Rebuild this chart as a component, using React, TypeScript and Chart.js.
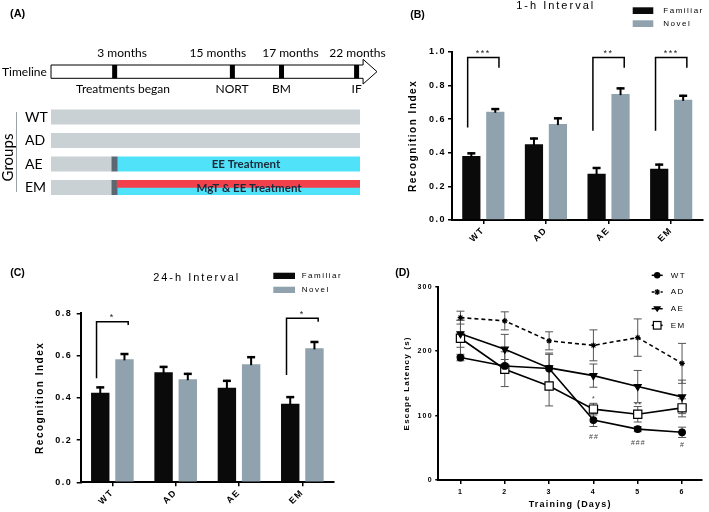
import React, { useEffect, useRef } from 'react';
import { Chart, registerables } from 'chart.js';
Chart.register(...registerables);

const FONT = '"Liberation Sans", Arial, sans-serif';
const FONT_A = 'Lato, "Liberation Sans", sans-serif';

// ---------------- Panel A (schematic timeline, 0..100 schematic units) ----------------
const groupLabels = ['WT', 'AD', 'AE', 'EM'];
const controlSpan = [[0, 100], [0, 100], [0, 19.7], [0, 19.7]];
const startSpan = [null, null, [19.7, 21.4], [19.7, 21.4]];
const eeSpan = [null, null, [21.4, 100], [21.4, 100]];
const mgtSpan = [null, null, null, [21.4, 100]];
const treatmentText = ['', '', 'EE Treatment', 'MgT & EE Treatment'];
const treatmentTextAt = [0, 0, 63.1, 64.1];
const timelineTickAt = [20.6, 58.7, 74.6, 98.9];
const timelineAges = ['3 months', '15 months', '17 months', '22 months'];
const timelineAgesAt = [23.0, 54.0, 77.5, 99.2];
const timelineEvents = ['Treatments began', 'NORT', 'BM', 'IF'];
const timelineEventsAt = [23.3, 58.6, 74.6, 98.9];
const timelineBodyEnd = 101;
const timelineArrowTip = 105.5;

// ---------------- Panels B / C (NORT) ----------------
const nortGroups = ['WT', 'AD', 'AE', 'EM'];
const seriesNames = ['Familiar', 'Novel'];

const familiar1h = [0.38, 0.45, 0.275, 0.305];
const familiar1hErr = [0.022, 0.04, 0.04, 0.03];
const novel1h = [0.643, 0.57, 0.748, 0.714];
const novel1hErr = [0.022, 0.04, 0.04, 0.03];
const sig1hGroup = [0, 2, 3];
const sig1hStars = ['***', '**', '***'];
const sig1hTop = [0.965, 0.965, 0.965];
const sig1hLeftEnd = [0.55, 0.53, 0.53];
const sig1hRightEnd = [0.905, 0.905, 0.905];
const yTicks1h = [0, 0.2, 0.4, 0.6, 0.8, 1.0];

const familiar24h = [0.424, 0.521, 0.448, 0.372];
const familiar24hErr = [0.03, 0.03, 0.037, 0.036];
const novel24h = [0.582, 0.488, 0.559, 0.634];
const novel24hErr = [0.03, 0.03, 0.038, 0.035];
const sig24hGroup = [0, 3];
const sig24hStars = ['*', '*'];
const sig24hTop = [0.76, 0.776];
const sig24hLeftEnd = [0.492, 0.508];
const sig24hRightEnd = [0.745, 0.76];
const yTicks24h = [0, 0.2, 0.4, 0.6, 0.8];

// ---------------- Panel D (Barnes maze) ----------------
const days = [1, 2, 3, 4, 5, 6];
const latencyTicks = [0, 100, 200, 300];
const wtLatency = [190, 177, 173, 93, 79, 74];
const wtErr = [5, 10, 22, 10, 4, 8];
const adLatency = [252, 247, 216, 209, 221, 181];
const adErr = [10, 14, 14, 24, 29, 31];
const aeLatency = [227, 203, 174, 162, 145, 129];
const aeErr = [21, 23, 23, 18, 25, 26];
const emLatency = [220, 172, 146, 110, 102, 112];
const emErr = [28, 27, 31, 9, 12, 14];
const notesText = ['*', '**', '##', '###', '#'];
const notesDay = [4, 5, 4, 5, 6];
const notesValue = [126, 117, 67, 57, 54];

// ---------------- Panel A chart ----------------
function makePanelA(canvas: HTMLCanvasElement) {
  const plugin = {
    id: 'panelA',
    afterDatasetUpdate(chart: any, args: any) {
      const ds = chart.data.datasets[args.index];
      if (!ds.halfTop) return;
      args.meta.data.forEach((el: any) => {
        if (el && isFinite(el.y) && isFinite(el.height)) {
          el.y -= el.height / 4;
          el.height /= 2;
        }
      });
    },
    afterDatasetsDraw(chart: any) {
      const { ctx } = chart;
      const xs = chart.scales.x, ys = chart.scales.y;
      ctx.save();
      ctx.fillStyle = '#1b2a3a';
      ctx.font = `bold 11.5px ${FONT_A}`;
      ctx.textAlign = 'center';
      ctx.textBaseline = 'middle';
      treatmentText.forEach((t, i) => {
        if (!t) return;
        ctx.fillText(t, xs.getPixelForValue(treatmentTextAt[i]), ys.getPixelForValue(i) + (i === 3 ? 1 : 0));
      });
      ctx.restore();
    },
    afterDraw(chart: any) {
      const { ctx } = chart;
      const xs = chart.scales.x;
      const px = (v: number) => xs.getPixelForValue(v);
      ctx.save();
      ctx.fillStyle = '#000';
      ctx.font = `bold 11px ${FONT}`;
      ctx.textAlign = 'left';
      ctx.textBaseline = 'middle';
      ctx.fillText('(A)', 10, 14);
      // timeline arrow
      const t0 = 65, t1 = 78.3;
      ctx.beginPath();
      ctx.moveTo(px(0), t0);
      ctx.lineTo(px(timelineBodyEnd), t0);
      ctx.lineTo(px(timelineBodyEnd), 59.3);
      ctx.lineTo(px(timelineArrowTip), (t0 + t1) / 2);
      ctx.lineTo(px(timelineBodyEnd), 84);
      ctx.lineTo(px(timelineBodyEnd), t1);
      ctx.lineTo(px(0), t1);
      ctx.closePath();
      ctx.fillStyle = '#fff';
      ctx.fill();
      ctx.strokeStyle = '#000';
      ctx.lineWidth = 1;
      ctx.stroke();
      ctx.fillStyle = '#000';
      timelineTickAt.forEach((v) => ctx.fillRect(px(v) - 2.5, t0, 5, t1 - t0));
      ctx.font = `12px ${FONT_A}`;
      ctx.textAlign = 'center';
      timelineAges.forEach((t, i) => ctx.fillText(t, px(timelineAgesAt[i]), 53.5));
      timelineEvents.forEach((t, i) => ctx.fillText(t, px(timelineEventsAt[i]), 89.5));
      ctx.textAlign = 'left';
      ctx.fillText('Timeline', 2, 72);
      // Groups label + line
      ctx.save();
      ctx.translate(8, 157.5);
      ctx.rotate(-Math.PI / 2);
      ctx.textAlign = 'center';
      ctx.font = `15px ${FONT_A}`;
      ctx.fillText('Groups', 0, 0);
      ctx.restore();
      ctx.strokeStyle = '#9aa0a4';
      ctx.lineWidth = 1;
      ctx.beginPath();
      ctx.moveTo(16.5, 112);
      ctx.lineTo(16.5, 192);
      ctx.stroke();
      ctx.restore();
    },
  };
  return new Chart(canvas, {
    type: 'bar',
    data: {
      labels: groupLabels,
      datasets: [
        { label: 'MgT', data: mgtSpan as any, backgroundColor: '#f2404c', order: 0, halfTop: true } as any,
        { label: 'Start', data: startSpan as any, backgroundColor: '#5c6871', order: 1 },
        { label: 'EE', data: eeSpan as any, backgroundColor: '#4fe2f8', order: 2 },
        { label: 'Control', data: controlSpan as any, backgroundColor: '#c9d1d4', order: 3 },
      ],
    },
    options: {
      indexAxis: 'y',
      responsive: false,
      animation: false,
      datasets: { bar: { grouped: false, barThickness: 14.5 } } as any,
      layout: { padding: { left: 25, right: 35, top: 105.25, bottom: 50.75 } },
      scales: {
        x: { type: 'linear', min: 0, max: 100, display: false },
        y: {
          type: 'category',
          grid: { display: false },
          border: { display: false },
          ticks: { crossAlign: 'far', font: { family: FONT_A, size: 14 }, color: '#000', padding: 0 },
          afterFit: (s: any) => { s.width = 26; },
        },
      },
      plugins: { legend: { display: false }, tooltip: { enabled: false } },
    } as any,
    plugins: [plugin],
  });
}

// ---------------- Panels B / C chart ----------------
function makeNortPanel(canvas: HTMLCanvasElement, cfg: any) {
  const L = cfg.layout;
  const plugin = {
    id: 'nortDecor',
    beforeDraw(chart: any) { chart.ctx.letterSpacing = '1.5px'; },
    afterDatasetsDraw(chart: any) {
      const { ctx } = chart;
      const xs = chart.scales.x, ys = chart.scales.y;
      ctx.save();
      ctx.strokeStyle = '#000';
      ctx.fillStyle = '#000';
      [cfg.famErr, cfg.novErr].forEach((errs: number[], di: number) => {
        const meta = chart.getDatasetMeta(di);
        const vals = chart.data.datasets[di].data;
        meta.data.forEach((el: any, j: number) => {
          const yTop = ys.getPixelForValue(vals[j]);
          const yE = ys.getPixelForValue(vals[j] + errs[j]);
          ctx.lineWidth = 2;
          ctx.beginPath(); ctx.moveTo(el.x, yTop + 1); ctx.lineTo(el.x, yE); ctx.stroke();
          ctx.lineWidth = 2.5;
          ctx.beginPath(); ctx.moveTo(el.x - 4, yE + 1); ctx.lineTo(el.x + 4, yE + 1); ctx.stroke();
        });
      });
      const catW = xs.width / nortGroups.length;
      cfg.sigGroup.forEach((g: number, k: number) => {
        const cx = xs.getPixelForValue(g);
        const l = cx - catW * 0.25, r = cx + catW * 0.25;
        const yt = ys.getPixelForValue(cfg.sigTop[k]);
        ctx.lineWidth = 1.5;
        ctx.beginPath();
        ctx.moveTo(l, ys.getPixelForValue(cfg.sigLeft[k]));
        ctx.lineTo(l, yt);
        ctx.lineTo(r, yt);
        ctx.lineTo(r, ys.getPixelForValue(cfg.sigRight[k]));
        ctx.stroke();
        ctx.font = `9px ${FONT}`;
        ctx.fillStyle = '#222';
        ctx.textAlign = 'center';
        ctx.textBaseline = 'middle';
        ctx.fillText(cfg.sigStars[k], cx, yt - 4);
      });
      ctx.restore();
    },
    afterDraw(chart: any) {
      const { ctx } = chart;
      ctx.save();
      ctx.fillStyle = '#000';
      ctx.letterSpacing = '0px';
      ctx.font = `bold 10.5px ${FONT}`;
      ctx.textAlign = 'center';
      ctx.textBaseline = 'middle';
      ctx.fillText(cfg.panel, L.panelX, L.panelY);
      ctx.letterSpacing = '2px';
      ctx.font = `11px ${FONT}`;
      ctx.textBaseline = 'alphabetic';
      ctx.fillText(cfg.title, L.titleX, L.titleY);
      // legend
      const colors = ['#0a0a0a', '#8fa2ad'];
      ctx.letterSpacing = '1.5px';
      ctx.font = `8px ${FONT}`;
      ctx.textAlign = 'left';
      ctx.textBaseline = 'middle';
      seriesNames.forEach((n, i) => {
        const y = L.legendY[i];
        ctx.fillStyle = colors[i];
        ctx.fillRect(L.legendX, y, L.legendW, L.legendH);
        ctx.fillStyle = '#000';
        ctx.fillText(n, L.legendTextX, y + L.legendH / 2);
      });
      ctx.restore();
      ctx.letterSpacing = '0px';
    },
  };
  return new Chart(canvas, {
    type: 'bar',
    data: {
      labels: nortGroups,
      datasets: [
        { label: seriesNames[0], data: cfg.fam, backgroundColor: '#0a0a0a', categoryPercentage: 0.765, barPercentage: 0.76 },
        { label: seriesNames[1], data: cfg.nov, backgroundColor: '#8fa2ad', categoryPercentage: 0.765, barPercentage: 0.76 },
      ],
    },
    options: {
      responsive: false,
      animation: false,
      layout: { padding: { left: 0, top: L.padTop, right: L.padRight, bottom: 0 } },
      scales: {
        x: {
          grid: { display: true, drawOnChartArea: false, offset: false, color: '#000', lineWidth: 1.5, tickLength: 4 },
          border: { display: true, color: '#000', width: 2 },
          ticks: { autoSkip: false, minRotation: 45, maxRotation: 45, font: { family: FONT, size: 9, weight: 'bold' }, color: '#000', padding: 1 },
          afterFit: (s: any) => { s.height = L.xHeight; },
        },
        y: {
          min: 0,
          max: cfg.yTicks[cfg.yTicks.length - 1],
          afterBuildTicks: (s: any) => { s.ticks = cfg.yTicks.map((v: number) => ({ value: v })); },
          grid: { drawOnChartArea: false, color: '#000', lineWidth: 1.5, tickLength: 4 },
          border: { display: true, color: '#000', width: 2 },
          ticks: { font: { family: FONT, size: 9, weight: 'bold' }, color: '#000', padding: L.yTickPad, callback: (v: any) => Number(v).toFixed(1) },
          title: { display: true, text: 'Recognition Index', font: { family: FONT, size: 10, weight: 'bold' }, color: '#000', padding: { top: L.yTitlePad, bottom: 0 } },
          afterFit: (s: any) => { s.width = L.yWidth; },
        },
      },
      plugins: { legend: { display: false }, tooltip: { enabled: false } },
    } as any,
    plugins: [plugin],
  });
}

// ---------------- Panel D chart ----------------
function drawMarker(ctx: CanvasRenderingContext2D, style: string, x: number, y: number) {
  ctx.save();
  ctx.fillStyle = '#000';
  ctx.strokeStyle = '#000';
  ctx.lineWidth = 1.2;
  if (style === 'circle') {
    ctx.beginPath(); ctx.arc(x, y, 3.2, 0, Math.PI * 2); ctx.fill();
  } else if (style === 'star') {
    const r = 3;
    ctx.beginPath();
    for (let k = 0; k < 4; k++) {
      const a = (k * Math.PI) / 4;
      ctx.moveTo(x - r * Math.cos(a), y - r * Math.sin(a));
      ctx.lineTo(x + r * Math.cos(a), y + r * Math.sin(a));
    }
    ctx.stroke();
  } else if (style === 'triangle') {
    ctx.beginPath(); ctx.moveTo(x - 4, y - 2.5); ctx.lineTo(x + 4, y - 2.5); ctx.lineTo(x, y + 3.5); ctx.closePath(); ctx.fill();
  } else if (style === 'rect') {
    ctx.fillStyle = '#fff';
    ctx.fillRect(x - 3.8, y - 3.8, 7.6, 7.6);
    ctx.strokeRect(x - 3.8, y - 3.8, 7.6, 7.6);
  }
  ctx.restore();
}

function makePanelD(canvas: HTMLCanvasElement) {
  const styles = ['circle', 'star', 'triangle', 'rect'];
  const plugin = {
    id: 'panelD',
    beforeDraw(chart: any) { chart.ctx.letterSpacing = '1.2px'; },
    beforeDatasetsDraw(chart: any) {
      const { ctx } = chart;
      const xs = chart.scales.x, ys = chart.scales.y;
      ctx.save();
      ctx.strokeStyle = '#555';
      ctx.lineWidth = 1;
      chart.data.datasets.forEach((ds: any) => {
        ds.data.forEach((p: any, j: number) => {
          const e = ds.errors[j];
          const x = xs.getPixelForValue(p.x);
          const y1 = ys.getPixelForValue(p.y - e), y2 = ys.getPixelForValue(p.y + e);
          ctx.beginPath();
          ctx.moveTo(x, y1); ctx.lineTo(x, y2);
          ctx.moveTo(x - 4, y1); ctx.lineTo(x + 4, y1);
          ctx.moveTo(x - 4, y2); ctx.lineTo(x + 4, y2);
          ctx.stroke();
        });
      });
      ctx.restore();
    },
    afterDraw(chart: any) {
      const { ctx } = chart;
      const xs = chart.scales.x, ys = chart.scales.y;
      ctx.save();
      ctx.letterSpacing = '0px';
      ctx.fillStyle = '#000';
      ctx.font = `bold 10.5px ${FONT}`;
      ctx.textAlign = 'center';
      ctx.textBaseline = 'middle';
      ctx.fillText('(D)', 42.5, 17);
      // annotations
      ctx.fillStyle = '#444';
      ctx.font = `7px ${FONT}`;
      ctx.letterSpacing = '1px';
      notesText.forEach((t, i) => {
        ctx.fillText(t, xs.getPixelForValue(notesDay[i]) + 0.5, ys.getPixelForValue(notesValue[i]));
      });
      // legend
      ctx.letterSpacing = '1.5px';
      ctx.font = `8px ${FONT}`;
      ctx.textAlign = 'left';
      const rows = [19.3, 36, 52.7, 69.3];
      chart.data.datasets.forEach((ds: any, i: number) => {
        const y = rows[i];
        ctx.strokeStyle = '#000';
        ctx.lineWidth = 1.5;
        ctx.setLineDash(i === 1 ? [2.5, 2] : []);
        ctx.beginPath(); ctx.moveTo(291.7, y); ctx.lineTo(302.7, y); ctx.stroke();
        ctx.setLineDash([]);
        drawMarker(ctx, styles[i], 297.2, y);
        ctx.fillStyle = '#000';
        ctx.fillText(ds.label, 310.7, y);
      });
      ctx.restore();
      ctx.letterSpacing = '0px';
    },
  };
  const base = { borderColor: '#000', borderWidth: 1.6, pointBorderColor: '#000', pointBackgroundColor: '#000', pointBorderWidth: 1.2 };
  return new Chart(canvas, {
    type: 'line',
    data: {
      datasets: [
        { ...base, label: 'WT', data: days.map((d, i) => ({ x: d, y: wtLatency[i] })), errors: wtErr, pointStyle: 'circle', pointRadius: 3.3 },
        { ...base, label: 'AD', data: days.map((d, i) => ({ x: d, y: adLatency[i] })), errors: adErr, borderDash: [4, 3], pointStyle: 'star', pointRadius: 2.8 },
        { ...base, label: 'AE', data: days.map((d, i) => ({ x: d, y: aeLatency[i] })), errors: aeErr, pointStyle: 'triangle', pointRotation: 180, pointRadius: 4 },
        { ...base, label: 'EM', data: days.map((d, i) => ({ x: d, y: emLatency[i] })), errors: emErr, pointStyle: 'rect', pointRadius: 5.8, pointBackgroundColor: '#fff' },
      ] as any,
    },
    options: {
      responsive: false,
      animation: false,
      layout: { padding: { left: 0, top: 30.7, right: 6, bottom: 0 } },
      scales: {
        x: {
          type: 'linear', min: 0.5, max: 6.45,
          afterBuildTicks: (s: any) => { s.ticks = days.map((v) => ({ value: v })); },
          grid: { drawOnChartArea: false, color: '#000', lineWidth: 1.5, tickLength: 4 },
          border: { display: true, color: '#000', width: 2 },
          ticks: { font: { family: FONT, size: 7, weight: 'bold' }, color: '#000', padding: 3.5 },
          title: { display: true, text: 'Training (Days)', font: { family: FONT, size: 9, weight: 'bold' }, color: '#000', padding: { top: 0, bottom: 2.3 } },
          afterFit: (s: any) => { s.height = 32; },
        },
        y: {
          min: 0, max: 300,
          afterBuildTicks: (s: any) => { s.ticks = latencyTicks.map((v) => ({ value: v })); },
          grid: { drawOnChartArea: false, color: '#000', lineWidth: 1.5, tickLength: 3 },
          border: { display: true, color: '#000', width: 2 },
          ticks: { font: { family: FONT, size: 7, weight: 'bold' }, color: '#000', padding: 2.5 },
          title: { display: true, text: 'Escape Latency (s)', font: { family: FONT, size: 8, weight: 'bold' }, color: '#000', padding: { top: 41.9, bottom: 0 } },
          afterFit: (s: any) => { s.width = 78.3; },
        },
      },
      plugins: { legend: { display: false }, tooltip: { enabled: false } },
    } as any,
    plugins: [plugin],
  });
}

export default function App() {
  const aRef = useRef<HTMLCanvasElement>(null);
  const bRef = useRef<HTMLCanvasElement>(null);
  const cRef = useRef<HTMLCanvasElement>(null);
  const dRef = useRef<HTMLCanvasElement>(null);

  useEffect(() => {
    const charts = [
      makePanelA(aRef.current!),
      makeNortPanel(bRef.current!, {
        panel: '(B)', title: '1-h Interval',
        fam: familiar1h, famErr: familiar1hErr, nov: novel1h, novErr: novel1hErr,
        sigGroup: sig1hGroup, sigStars: sig1hStars, sigTop: sig1hTop, sigLeft: sig1hLeftEnd, sigRight: sig1hRightEnd,
        yTicks: yTicks1h,
        layout: {
          padTop: 51.7, padRight: 6.5, yWidth: 72, xHeight: 36, yTickPad: 2, yTitlePad: 27,
          panelX: 37.5, panelY: 15, titleX: 175.7, titleY: 9,
          legendX: 252.7, legendW: 20.6, legendH: 6.7, legendY: [7.3, 20.3], legendTextX: 283.3,
        },
      }),
      makeNortPanel(cRef.current!, {
        panel: '(C)', title: '24-h Interval',
        fam: familiar24h, famErr: familiar24hErr, nov: novel24h, novErr: novel24hErr,
        sigGroup: sig24hGroup, sigStars: sig24hStars, sigTop: sig24hTop, sigLeft: sig24hLeftEnd, sigRight: sig24hRightEnd,
        yTicks: yTicks24h,
        layout: {
          padTop: 57.3, padRight: 26, yWidth: 80.7, xHeight: 29.7, yTickPad: 4.5, yTitlePad: 34,
          panelX: 17.5, panelY: 17.5, titleX: 196.7, titleY: 24.5,
          legendX: 273.3, legendW: 21.7, legendH: 6.3, legendY: [16.7, 30.7], legendTextX: 301.7,
        },
      }),
      makePanelD(dRef.current!),
    ];
    return () => charts.forEach((c) => c.destroy());
  }, []);

  const abs = (l: number, t: number): React.CSSProperties => ({ position: 'absolute', left: l, top: t });
  return (
    <div style={{ position: 'absolute', left: 0, top: 0, width: 709, height: 512, background: '#fff', overflow: 'hidden' }}>
      <canvas ref={aRef} width={395} height={250} style={abs(0, 0)} />
      <canvas ref={bRef} width={329} height={256} style={abs(380, 0)} />
      <canvas ref={cRef} width={360} height={256} style={abs(0, 256)} />
      <canvas ref={dRef} width={349} height={256} style={abs(360, 256)} />
    </div>
  );
}
